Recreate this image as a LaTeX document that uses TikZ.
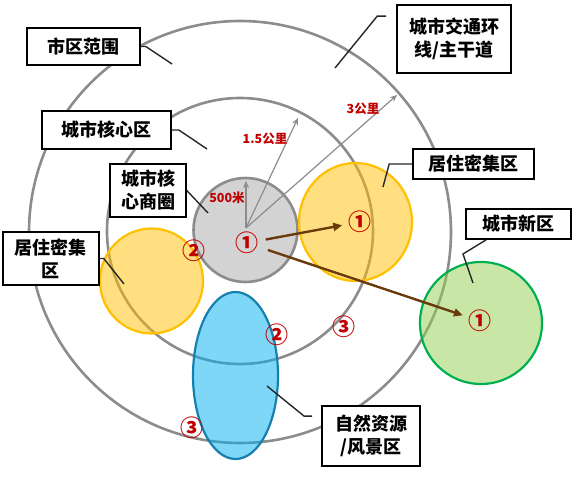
\documentclass[tikz,border=0pt]{standalone}
\usepackage{fontspec}
\usetikzlibrary{arrows.meta,positioning,shapes.geometric,calc}
\newfontfamily\cjk{Noto Sans CJK SC}
\definecolor{ringgray} {HTML}{8C8C8C}
\definecolor{coregray} {HTML}{D3D3D3}
\definecolor{resgold}  {HTML}{FFC000}
\definecolor{newgreen} {HTML}{00B050}
\definecolor{newfill}  {HTML}{92D050}
\definecolor{natblue}  {HTML}{1580B0}
\definecolor{natfill}  {HTML}{00B0F0}
\definecolor{numred}   {HTML}{C00000}
\definecolor{flowbrown}{HTML}{6B3A0C}
\definecolor{leadink}  {HTML}{262626}

\begin{document}
\begin{tikzpicture}[x=1pt,y=-1pt,
    ring/.style={draw=ringgray,line width=2.6pt},
    zone/.style={ellipse,line width=2.2pt,fill opacity=0.5,draw opacity=1,inner sep=0pt},
    lbl/.style={draw=black,line width=1.6pt,fill=white,align=center,inner sep=0pt,
      font=\cjk\bfseries\fontsize{18}{23}\selectfont},
    num/.style={circle,inner sep=0pt,text=numred,font=\cjk\bfseries\fontsize{23}{23}\selectfont},
    dist/.style={text=numred,inner sep=0pt,font=\cjk\bfseries\fontsize{12.5}{12.5}\selectfont},
    radius arrow/.style={draw=ringgray,line width=1.2pt,-{Stealth[length=7pt,width=6pt]}},
    flow/.style={draw=flowbrown,line width=2.4pt,-{Triangle[length=9pt,width=8pt]}},
    lead/.style={draw=leadink,line width=1.4pt}]
    \useasboundingbox (0,0) rectangle (576,502);

    % rings
    \draw[ring] (240,232) circle[radius=211];
    \draw[ring] (240,231) circle[radius=133];
    \draw[ring,fill=coregray] (245.5,230) circle[radius=52];

    % zones
    \node[zone,draw=resgold,fill=resgold,minimum width=113,minimum height=118] (rese) at (355.5,222) {};
    \node[zone,draw=resgold,fill=resgold,minimum width=103,minimum height=105] (resw) at (151.5,281) {};
    \node[zone,draw=natblue,fill=natfill,minimum width=85,minimum height=167] (nat) at (235.5,375.5) {};
    \node[zone,draw=newgreen,fill=newfill,minimum width=122,minimum height=122] (new) at (481,323) {};

    % radii
    \coordinate (o) at (246,228);
    \coordinate (tipA) at (246,181);
    \coordinate (tipB) at (298,118);
    \coordinate (tipC) at (397,95);
    \draw[radius arrow] (o) -- (tipA);
    \draw[radius arrow] (o) -- (tipB);
    \draw[radius arrow] (o) -- (tipC);
    \node[dist] (dA) at (227,198) {500米};
    \node[dist] (dB) at (265,139) {1.5公里};
    \node[dist] (dC) at (363,109) {3公里};

    % circled numbers
    \node[num] (n1core) at (247,243) {①};
    \node[num] (n1rese) at (360,222) {①};
    \node[num] (n1new)  at (480,321) {①};
    \node[num] (n2west) at (194,251) {②};
    \node[num] (n2nat)  at (277,335) {②};
    \node[num] (n3east) at (344,327) {③};
    \node[num] (n3west) at (192,428) {③};

    % spill-over
    \draw[flow,shorten <=3pt,shorten >=2pt] (n1core) -- (n1rese);
    \draw[flow,shorten <=6pt,shorten >=2pt] (n1core) -- (n1new);

    % labels
    \node[lbl,minimum width=113,minimum height=37] (bcity) at (83.5,46.5) {市区范围};
    \node[lbl,minimum width=129,minimum height=38] (bcore) at (106.5,130) {城市核心区};
    \node[lbl,minimum width=76,minimum height=53]  (bcbd)  at (148,190.5) {城市核\\心商圈};
    \node[lbl,minimum width=96,minimum height=53]  (bresw) at (51,258.5) {居住密集\\区};
    \node[lbl,minimum width=114,minimum height=68] (bring) at (454,39) {城市交通环\\线/主干道};
    \node[lbl,minimum width=121,minimum height=30] (brese) at (473.5,164) {居住密集区};
    \node[lbl,minimum width=105,minimum height=30] (bnew)  at (518.5,224) {城市新区};
    \node[lbl,minimum width=98,minimum height=60]  (bnat)  at (371,436) {自然资源\\/风景区};

    % leaders
    \coordinate (pcity) at (172,64);
    \coordinate (pcore) at (207,149);
    \coordinate (pcbd)  at (208,213);
    \coordinate (presw) at (124,284);
    \coordinate (pring) at (335,68);
    \coordinate (prese) at (383,187);
    \coordinate (pnew)  at (473,283);
    \coordinate (pnat)  at (267,386);
    \draw[lead] (bcity.east) -- ++(5,0) -- (pcity);
    \draw[lead] (bcore.east) -- ++(7,0) -- (pcore);
    \draw[lead] (bcbd.east) -- (pcbd);
    \draw[lead] (bresw.east) -- ++(4,0) -- (presw);
    \draw[lead] ($(bring.north west)+(-10,12)$) -- ++(-9,0) -- (pring);
    \draw[lead] (brese.west) -- ++(-23,0) -- (prese);
    \draw[lead] ($(bnew.south west)+(21,0)$) -- (463,254) -- (pnew);
    \draw[lead] ($(bnat.north west)+(-9,11)$) -- ++(-8,0) -- (pnat);
\end{tikzpicture}
\end{document}
